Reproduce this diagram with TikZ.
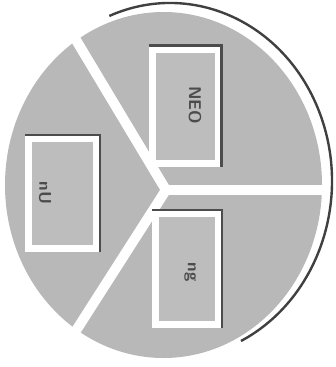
\documentclass[tikz,border=0pt]{standalone}
\begin{document}
\begin{tikzpicture}[x=1pt,y=-1pt,
  sector/.style={fill=black!28},
  gapline/.style={white,line width=10pt,line cap=round},
  rim/.style={black!75,line width=2.4pt},
  frame/.style={draw=white,line width=7pt,fill=black!26,minimum width=66pt,minimum height=114pt,inner sep=0pt},
  frameshadow/.style={black!70,line width=2.6pt},
  lbl/.style={rotate=-90,text=black!70,font=\sffamily\bfseries\fontsize{17}{17}\selectfont,inner sep=0pt}]
\useasboundingbox (0,0) rectangle (336,367);
% filled disc
\fill[sector] (163.5,185) ellipse [x radius=158.5, y radius=173];
% outer rim arc
\draw[rim] (170,181) ++(-112:162 and 178) arc[start angle=-112,end angle=64,x radius=162,y radius=178];
% gaps
\coordinate (c) at (166,190);
\coordinate (gu) at (70,30);
\coordinate (gl) at (70,340);
\coordinate (gr) at (326,190);
\begin{scope}
\clip (163.5,185) ellipse [x radius=159, y radius=174];
\draw[gapline] (c) -- (gu);
\draw[gapline] (c) -- (gl);
\draw[gapline] (c) -- (gr);
\end{scope}
% boxes
\node[frame] (btop) at (185,106) {};
\node[frame,minimum width=68pt,minimum height=110pt] (bleft) at (62.5,193.5) {};
\node[frame,minimum width=63pt,minimum height=111pt] (bbot) at (187,269) {};
\draw[frameshadow] (btop.north west) -- (btop.north east) -- (btop.south east);
\draw[frameshadow] (bleft.north west) -- (bleft.north east) -- (bleft.south east);
\draw[frameshadow] (bbot.north west) -- (bbot.north east) -- (bbot.south east);
% labels
\node[lbl] (ltop) at (195,105) {NEO};
\node[lbl] (lleft) at (45,193) {nU};
\node[lbl] (lbot) at (190,272) {ng};
\end{tikzpicture}
\end{document}
